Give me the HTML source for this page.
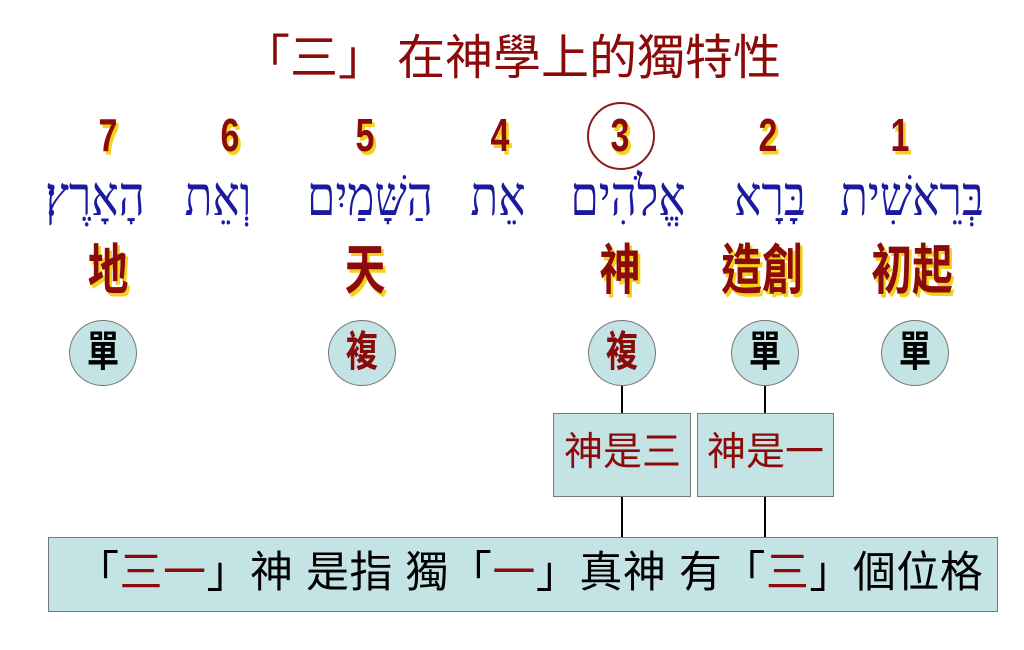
<!DOCTYPE html>
<html><head><meta charset="utf-8">
<style>
body{margin:0;width:1024px;height:650px;background:#fff;position:relative;overflow:hidden;font-family:"Liberation Sans","Noto Sans CJK TC",sans-serif}
.a{position:absolute;white-space:nowrap;line-height:1}
.c{transform:translateX(-50%) scale(.85,1.15)}
.num{font-size:40px;font-weight:bold;color:#8b0a0a;text-shadow:3px 3px 0 #f2d21a;top:116px}
.zh{font-size:48px;font-weight:bold;color:#8b0a0a;text-shadow:3px 3px 0 #f2d21a;top:248px}
.el{position:absolute;width:66px;height:64px;border-radius:50%;background:#c4e3e5;border:1.5px solid #777;top:320px;text-align:center;line-height:64px}
.el span{display:inline-block;font-size:38px;font-weight:bold;transform:scale(.85,1.1)}
.box{position:absolute;background:#c4e3e5;border:1.5px solid #777}
.ln{position:absolute;width:2px;background:#000}
.r{color:#8b0a0a}
.hb{position:absolute;top:174px;font-family:'Liberation Serif','DejaVu Serif',serif;font-size:48px;color:#1a1aa0;direction:rtl;white-space:nowrap;line-height:1;transform:translateX(-50%) scale(.95,1.15)}
</style></head><body>
<div class="a" style="left:242px;top:35px;font-size:48px;color:#8b0a0a">「三」</div>
<div class="a" style="left:397px;top:35px;font-size:48px;color:#8b0a0a">在神學上的獨特性</div>

<div class="a c num" style="left:108px">7</div>
<div class="a c num" style="left:230px">6</div>
<div class="a c num" style="left:365px">5</div>
<div class="a c num" style="left:500px">4</div>
<div class="a c num" style="left:620px">3</div>
<div style="position:absolute;left:587px;top:102px;width:64px;height:64px;border:2px solid #8b1a1a;border-radius:50%"></div>
<div class="a c num" style="left:768px">2</div>
<div class="a c num" style="left:900px">1</div>

<div class="hb" style="left:912px">בְּרֵאשִׁית</div>
<div class="hb" style="left:770px">בָּרָא</div>
<div class="hb" style="left:628px">אֱלֹהִים</div>
<div class="hb" style="left:498px">אֵת</div>
<div class="hb" style="left:370px">הַשָּׁמַיִם</div>
<div class="hb" style="left:218px">וְאֵת</div>
<div class="hb" style="left:95px">הָאָרֶץ׃</div>

<div class="a c zh" style="left:108px">地</div>
<div class="a c zh" style="left:365px">天</div>
<div class="a c zh" style="left:620px">神</div>
<div class="a c zh" style="left:762px">造創</div>
<div class="a c zh" style="left:912px">初起</div>

<div class="el" style="left:69px"><span>單</span></div>
<div class="el r" style="left:328px"><span>複</span></div>
<div class="el r" style="left:588px"><span>複</span></div>
<div class="el" style="left:731px"><span>單</span></div>
<div class="el" style="left:881px"><span>單</span></div>

<div class="ln" style="left:621px;top:386px;height:28px"></div>
<div class="ln" style="left:764px;top:386px;height:28px"></div>
<div class="box" style="left:553px;top:413px;width:136px;height:82px"></div>
<div class="box" style="left:697px;top:413px;width:135px;height:82px"></div>
<div class="a r" style="left:564px;top:433px;font-size:39px">神是三</div>
<div class="a r" style="left:707px;top:433px;font-size:39px">神是一</div>
<div class="ln" style="left:621px;top:497px;height:41px"></div>
<div class="ln" style="left:764px;top:497px;height:41px"></div>

<div class="box" style="left:48px;top:537px;width:948px;height:73px"></div>
<div class="a" style="left:76px;top:552px;font-size:43px;letter-spacing:0.5px;color:#000">「<span class="r">三一</span>」神 是指 獨「<span class="r">一</span>」真神 有「<span class="r">三</span>」個位格</div>
</body></html>
